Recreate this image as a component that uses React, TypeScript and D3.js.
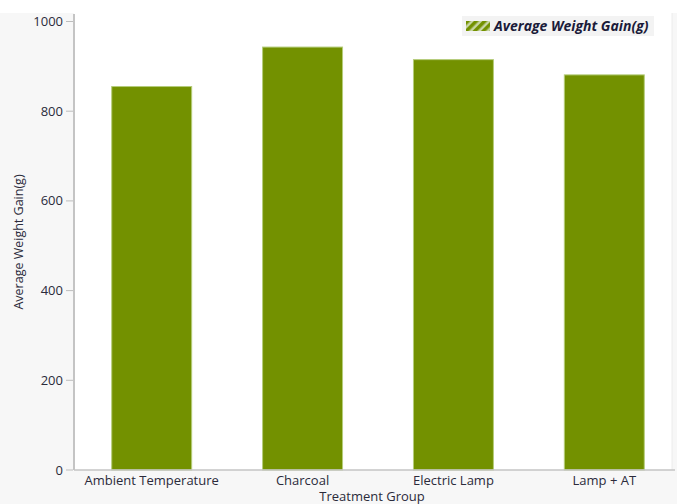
import React from 'react';
import * as d3 from 'd3';

const categories = ['Ambient Temperature', 'Charcoal', 'Electric Lamp', 'Lamp + AT'];
const weightGain = [855, 943, 915, 881];
const yTicks = [0, 200, 400, 600, 800, 1000];

const width = 677;
const height = 504;
const margin = { top: 14, left: 74, bottom: 470 };
const barColor = '#739100';
const font = '"Open Sans", "Noto Sans", sans-serif';

const App: React.FC = () => {
    const x = d3.scaleBand<string>()
        .domain(categories)
        .range([margin.left, 682])
        .paddingInner(0.47)
        .paddingOuter(0.25);

    const y = d3.scaleLinear()
        .domain([0, 1000])
        .range([margin.bottom, 21.5]);

    return (
        <svg width={width} height={height} style={{ position: 'absolute', left: 0, top: 0 }} fontFamily={font}>
            <defs>
                <pattern id="stripes" width="6" height="6" patternUnits="userSpaceOnUse" patternTransform="rotate(45)">
                    <rect width="6" height="6" fill="#c9d6a6" />
                    <rect width="3.5" height="6" fill={barColor} />
                </pattern>
            </defs>
            {/* outer background */}
            <rect x={0} y={margin.top - 1} width={width} height={height - margin.top + 1} fill="#f7f7f7" />
            {/* plot area */}
            <rect x={margin.left} y={margin.top - 1} width={672 - margin.left} height={margin.bottom - margin.top + 1} fill="#ffffff" />
            <line x1={672} x2={672} y1={margin.top - 1} y2={margin.bottom} stroke="#ececec" />

            {/* bars */}
            {categories.map((c, i) => (
                <rect
                    key={c}
                    x={x(c)}
                    y={y(weightGain[i])}
                    width={x.bandwidth()}
                    height={y(0) - y(weightGain[i])}
                    fill={barColor}
                    stroke="#b5cc7a"
                    strokeWidth={1}
                />
            ))}

            {/* y axis */}
            <line x1={margin.left} x2={margin.left} y1={margin.top} y2={margin.bottom} stroke="#c4c4c4" strokeWidth={2} />
            {yTicks.map(t => (
                <g key={t} transform={`translate(0,${y(t)})`}>
                    <line x1={66} x2={73} stroke="#bdbdbd" />
                    <text x={63} dy="0.35em" textAnchor="end" fontSize={13} fill="#2b2b3b">{t}</text>
                </g>
            ))}
            <text
                transform={`translate(23,${242}) rotate(-90)`}
                textAnchor="middle"
                fontSize={12.5}
                fill="#2b2b3b"
            >
                Average Weight Gain(g)
            </text>

            {/* x axis */}
            <line x1={margin.left} x2={675} y1={margin.bottom} y2={margin.bottom} stroke="#c4c4c4" strokeWidth={1.5} />
            {categories.map(c => (
                <text key={c} x={(x(c) ?? 0) + x.bandwidth() / 2} y={485} textAnchor="middle" fontSize={13} fill="#2b2b3b">
                    {c}
                </text>
            ))}
            <text x={372} y={501} textAnchor="middle" fontSize={13} fill="#2b2b3b">Treatment Group</text>

            {/* legend */}
            <g transform="translate(462,16)">
                <rect width={192} height={20} fill="#f3f3f3" />
                <rect x={4} y={5} width={24} height={10} fill="url(#stripes)" />
                <text x={32} y={15} fontSize={14} fontWeight="bold" fontStyle="italic" fill="#1b1b3a">
                    Average Weight Gain(g)
                </text>
            </g>
        </svg>
    );
};

export default App;
